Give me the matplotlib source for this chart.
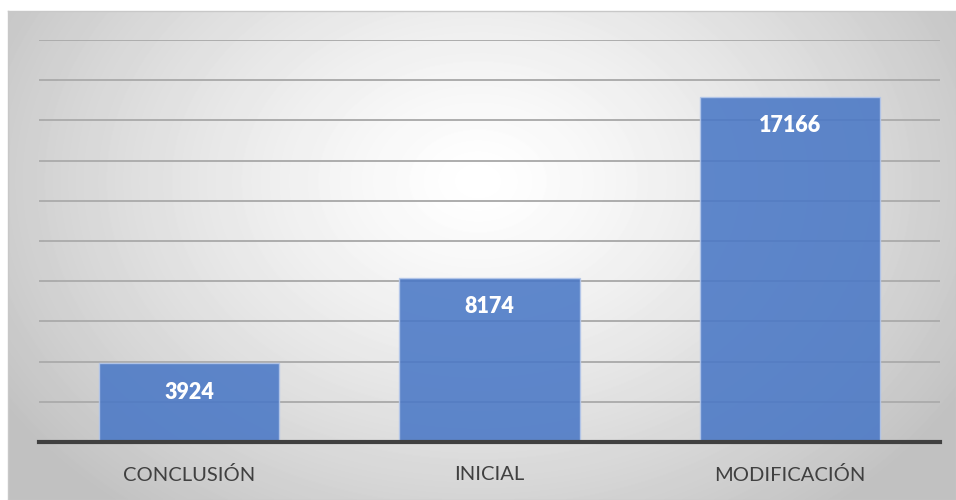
import matplotlib.pyplot as plt
import numpy as np

categories = ["CONCLUSIÓN", "INICIAL", "MODIFICACIÓN"]
values = [3924, 8174, 17166]

plt.rcParams['font.family'] = ['Lato', 'DejaVu Sans']

fig = plt.figure(figsize=(9.56, 5.0), dpi=100)
fig.patch.set_facecolor('white')

# radial grey-to-white backdrop of the chart frame
bg = fig.add_axes([8 / 956, 0, 1 - 8 / 956, 1 - 11 / 500])
yy, xx = np.mgrid[0:489, 0:948]
r = np.sqrt(((xx - 470) / 560.0) ** 2 + ((yy - 170) / 420.0) ** 2)
shade = 1.0 - 0.24 * np.clip(r, 0, 1) ** 1.3
bg.imshow(shade, cmap='gray', vmin=0, vmax=1, aspect='auto', interpolation='bilinear')
bg.set_xticks([])
bg.set_yticks([])
for s in bg.spines.values():
    s.set_color('#c8c8c8')
    s.set_linewidth(1)

ax = fig.add_axes([39 / 956, 1 - 442 / 500, (940 - 39) / 956, (442 - 40) / 500])
ax.patch.set_alpha(0)
x = np.arange(len(categories))
bars = ax.bar(x, values, width=0.6, color='#4a78c6', alpha=0.88,
              edgecolor='#b4c7ea', linewidth=1, zorder=3)

ax.set_xlim(-0.5, 2.5)
ax.set_ylim(0, 20000)
ax.set_yticks(np.arange(2000, 20001, 2000))
ax.yaxis.grid(True, color='#adadad', linewidth=1.4, zorder=1)
ax.tick_params(axis='y', length=0, labelleft=False)
ax.tick_params(axis='x', length=0, pad=17, labelsize=14.5, labelcolor='#404040')
ax.set_xticks(x)
ax.set_xticklabels(categories)
for s in ['top', 'right', 'left']:
    ax.spines[s].set_visible(False)
ax.spines['bottom'].set_color('#404040')
ax.spines['bottom'].set_linewidth(3)
ax.spines['bottom'].set_zorder(4)

for xi, v in zip(x, values):
    ax.annotate(str(v), (xi, v), xytext=(0, -29), textcoords='offset pixels',
                ha='center', va='center', color='white', fontsize=15.5,
                fontweight='heavy', zorder=5)

fig.savefig('out.png', dpi=100)
